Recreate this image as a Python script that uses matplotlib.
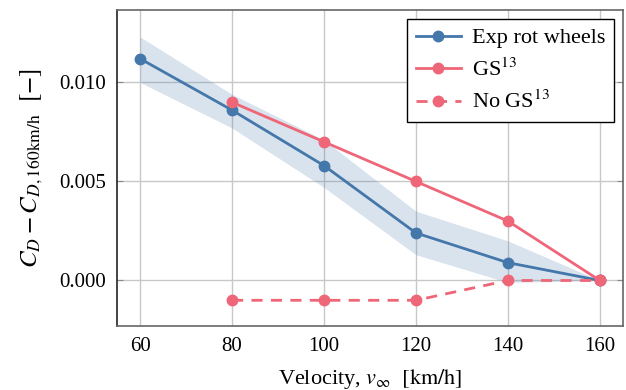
import matplotlib
matplotlib.use('Agg')
import matplotlib.pyplot as plt

plt.rcParams['font.family'] = ['Liberation Serif', 'DejaVu Serif']
plt.rcParams['mathtext.fontset'] = 'stix'
plt.rcParams['font.size'] = 14

BLUE = '#4477AA'
RED = '#EE6677'

# data
vel_exp = [60, 80, 100, 120, 140, 160]
exp_rot = [0.0112, 0.0086, 0.0058, 0.0024, 0.0009, 0.0]
exp_hi = [0.0123, 0.0094, 0.0071, 0.0035, 0.0020, 0.0]
exp_lo = [0.0100, 0.0077, 0.0047, 0.0013, -0.0001, 0.0]

vel_gs = [80, 100, 120, 140, 160]
gs = [0.009, 0.007, 0.005, 0.003, 0.0]
no_gs = [-0.001, -0.001, -0.001, 0.0, 0.0]

xticks = [60, 80, 100, 120, 140, 160]
yticks = [0.0, 0.005, 0.010]

fig = plt.figure(figsize=(6.26, 3.90), dpi=100)
ax = fig.add_axes([0.187, 0.164, 0.808, 0.810])

ax.fill_between(vel_exp, exp_lo, exp_hi, color=BLUE, alpha=0.2, linewidth=0, zorder=1)
ax.plot(vel_exp, exp_rot, '-o', color=BLUE, lw=2, ms=7.5, label='Exp rot wheels', zorder=3)
ax.plot(vel_gs, gs, '-o', color=RED, lw=2, ms=7.5, label='GS$^{13}$', zorder=3)
ax.plot(vel_gs, no_gs, '--o', color=RED, lw=2, ms=7.5, dashes=(4, 3), label='No GS$^{13}$', zorder=3)

ax.set_xlim(55, 165)
ax.set_ylim(-0.0023, 0.01365)
ax.set_xticks(xticks)
ax.set_yticks(yticks)
ax.set_yticklabels(['0.000', '0.005', '0.010'])
ax.grid(True, color='#c8c8c8', lw=1)
ax.set_axisbelow(True)
ax.tick_params(axis='x', length=0, pad=8, labelsize=15)
ax.tick_params(axis='y', direction='in', length=4, color='#888888', right=True, pad=8, labelsize=15)
for s in ax.spines.values():
    s.set_color('#666666')
    s.set_linewidth(1.2)
ax.spines['left'].set_color('#222222')

ax.set_xlabel(r'Velocity, $v_\infty\ \ [\mathrm{km/h}]$', fontsize=16, labelpad=8)
ax.set_ylabel(r'$C_D - C_{D,160\mathrm{km/h}}\ \ [-]$', fontsize=18, labelpad=10)

leg = ax.legend(loc='upper right', fancybox=False, edgecolor='black', framealpha=1,
                fontsize=16, handlelength=2.0, handletextpad=0.5,
                borderaxespad=0.4, labelspacing=0.45)
leg.get_frame().set_linewidth(1)

fig.savefig('out.png', dpi=100)
